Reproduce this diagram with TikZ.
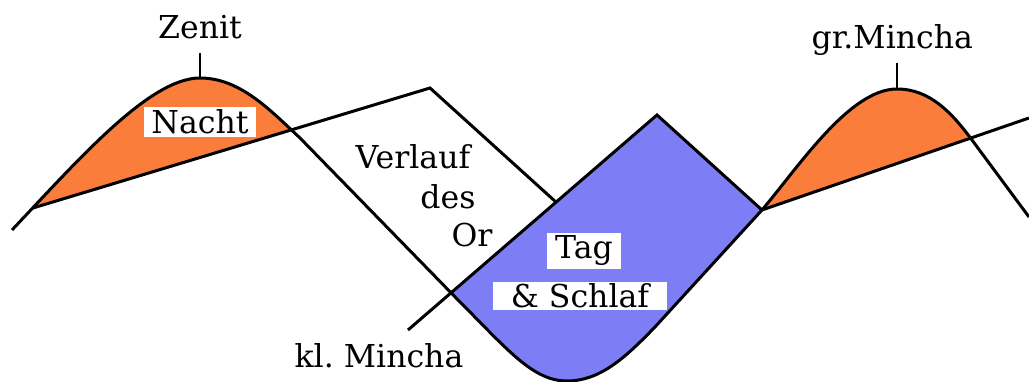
\documentclass[tikz,border=0pt]{standalone}
\usepackage{fontspec}
\setmainfont{DejaVu Serif}
\usepackage{tikz}
\usetikzlibrary{positioning}

\definecolor{nachtorange}{RGB}{250,125,60}
\definecolor{tagblau}{RGB}{125,125,245}

% Lauf der Sonne
\newcommand{\sonnenbahn}{(12,230) .. controls (80,158) and (150,78) .. (200,78)
  .. controls (240,78) and (270,110) .. (300,138)
  -- (460,302) .. controls (508,350) and (533,381) .. (567,381)
  .. controls (600,381) and (625,358) .. (655,327)
  -- (762,210) .. controls (800,165) and (850,89) .. (897,89)
  .. controls (930,89) and (952,113) .. (972,140)
  -- (1029,217)}

\begin{document}
\begin{tikzpicture}
			[x=0.317pt,y=-0.317pt,line width=0.95pt,
			lbl/.style={inner sep=1pt,font=\normalsize},
			kasten/.style={lbl,fill=white,inner xsep=2.5pt}]
			
			\useasboundingbox (0,0) rectangle (1029,382);
			
			\coordinate (or1) at (33,208);
			\coordinate (or2) at (430,88);
			\coordinate (or3) at (557,203);
			\coordinate (kl)  at (408,330);
			\coordinate (or4) at (657,115);
			\coordinate (or5) at (762,210);
			\coordinate (or6) at (1029,118);
			\coordinate (zenit)       at (200,78);
			\coordinate (zenitstrich) at (200,53);
			\coordinate (gr)          at (897,89);
			\coordinate (grstrich)    at (897,63);
			
			% Flaechen
			\begin{scope}
				\clip (0,218) -- (or2) -- (430,0) -- (0,0) -- cycle;
				\fill[nachtorange] \sonnenbahn -- (1029,400) -- (0,400) -- cycle;
			\end{scope}
			\begin{scope}
				\clip (or5) -- (or6) -- (1029,0) -- (762,0) -- cycle;
				\fill[nachtorange] \sonnenbahn -- (1029,400) -- (0,400) -- cycle;
			\end{scope}
			\begin{scope}
				\clip (kl) -- (or4) -- (or5) -- (762,400) -- (408,400) -- cycle;
				\fill[tagblau] \sonnenbahn -- (1029,0) -- (0,0) -- cycle;
			\end{scope}
			
			\draw \sonnenbahn;
			\draw (or1) -- (or2) -- (or3);
			\draw (kl) -- (or4) -- (or5) -- (or6);
			\draw (zenitstrich) -- (zenit);
			\draw (grstrich) -- (gr);
			
			\node [lbl] (zenitlbl) [above=3pt of zenitstrich]          {Zenit};
			\node [lbl] (grlbl)    [above=1pt of grstrich, xshift=-1.5pt] {gr.Mincha};
			\node [kasten] (nacht) at (200,122) {Nacht};
			\node [lbl] (verlauf) at (413,157) {Verlauf};
			\node [lbl] (des)     at (448,197) {des};
			\node [lbl] (or)      at (472,235) {Or};
			\node [kasten] (tag)  at (584,251) {Tag};
			\node [kasten,minimum width=55pt,inner ysep=0.6pt] (schlaf) at (580,296) {\& Schlaf};
			\node [lbl] (klmincha) at (379,356) {kl.\ Mincha};
			
			\end{tikzpicture}
\end{document}
